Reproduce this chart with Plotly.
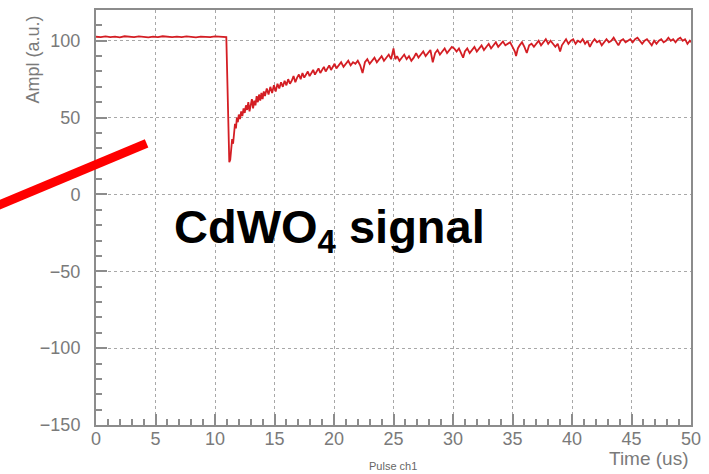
import plotly.graph_objects as go

# ---- data ----
time_us = [0.0, 0.4, 0.8, 1.2, 1.6, 2.0, 2.4, 2.8, 3.2, 3.6, 4.0, 4.4, 4.8, 5.2, 5.6, 6.0, 6.4, 6.8, 7.2, 7.6,
           8.0, 8.4, 8.8, 9.2, 9.6, 10.0, 10.4, 10.8, 10.95,
           11.05, 11.12, 11.2, 11.28, 11.36, 11.44, 11.52, 11.6, 11.68, 11.76, 11.84, 11.92, 12.0, 12.1, 12.2,
           12.3, 12.4, 12.5, 12.6, 12.7, 12.8, 12.9, 13.0, 13.1, 13.2, 13.3, 13.4, 13.5, 13.6, 13.7, 13.8, 13.9,
           14.0, 14.1, 14.2, 14.35, 14.5, 14.65, 14.8, 14.95, 15.1, 15.25, 15.4, 15.55, 15.7, 15.85, 16.0, 16.15,
           16.3, 16.45, 16.6, 16.75, 16.9, 17.05, 17.2, 17.35, 17.5, 17.65, 17.8, 17.95, 18.1, 18.25, 18.4, 18.55,
           18.7, 18.85, 19.0, 19.15, 19.3, 19.45, 19.6, 19.75, 19.9, 20.05, 20.2, 20.4, 20.6, 20.8, 21.0, 21.2,
           21.4, 21.6, 21.8, 22.0, 22.2, 22.4, 22.6, 22.8, 23.0, 23.2, 23.4, 23.6, 23.8, 24.0, 24.2, 24.4, 24.6,
           24.8, 25.0, 25.15, 25.3, 25.5, 25.7, 25.9, 26.1, 26.3, 26.5, 26.7, 26.9, 27.1, 27.3, 27.5, 27.7, 27.9,
           28.1, 28.3, 28.5, 28.7, 28.9, 29.1, 29.3, 29.5, 29.7, 29.9, 30.1, 30.3, 30.5, 30.7, 30.85, 31.0, 31.2,
           31.4, 31.6, 31.8, 32.0, 32.2, 32.4, 32.6, 32.8, 33.0, 33.2, 33.4, 33.6, 33.8, 34.0, 34.2, 34.4, 34.6,
           34.8, 35.0, 35.2, 35.3, 35.45, 35.6, 35.8, 36.0, 36.2, 36.4, 36.6, 36.8, 37.0, 37.2, 37.4, 37.6, 37.8,
           38.0, 38.2, 38.4, 38.6, 38.8, 39.0, 39.15, 39.3, 39.5, 39.7, 39.9, 40.1, 40.3, 40.5, 40.7, 40.9, 41.1,
           41.3, 41.5, 41.7, 41.9, 42.1, 42.3, 42.5, 42.7, 42.9, 43.1, 43.3, 43.5, 43.7, 43.9, 44.1, 44.3, 44.5,
           44.7, 44.9, 45.1, 45.3, 45.5, 45.7, 45.9, 46.1, 46.3, 46.5, 46.7, 46.9, 47.1, 47.3, 47.5, 47.7, 47.9,
           48.1, 48.3, 48.5, 48.7, 48.9, 49.1, 49.3, 49.5, 49.7, 49.9, 50.0]

ampl_au = [102.6, 102.3, 102.8, 102.4, 102.7, 102.2, 102.9, 102.5, 102.3, 102.8, 102.6, 102.2, 102.7, 102.4,
           102.9, 102.5, 102.3, 102.7, 102.4, 102.8, 102.5, 102.2, 102.7, 102.6, 102.3, 102.8, 102.5, 102.6, 102.4,
           70, 35, 21, 22.5, 30, 36, 33, 40, 46, 43, 50, 47, 52, 49, 54,
           51, 56, 53, 58, 55, 60, 54, 59, 62, 56, 61, 58, 64, 60, 65, 61, 66,
           62, 67, 64, 69, 65, 70, 66, 71, 67, 72, 69, 73, 70, 74, 71, 75,
           72, 74, 77, 73, 76, 78, 75, 79, 76, 78, 80, 77, 79, 81, 78, 80,
           82, 79, 81, 83, 80, 82, 84, 81, 83, 85, 82, 84, 86, 83, 85, 87,
           84, 86, 85, 87, 84, 79, 86, 88, 85, 87, 89, 86, 88, 90, 87, 89, 91,
           88, 95, 88, 90, 87, 89, 91, 88, 90, 87, 89, 92, 89, 91, 93, 90, 92,
           94, 86, 92, 94, 91, 93, 95, 92, 94, 96, 95, 93, 95, 92, 89, 93, 95,
           92, 94, 96, 93, 95, 97, 94, 96, 98, 95, 97, 99, 96, 98, 99.5, 97, 98,
           99, 96, 93, 90, 95, 97, 99, 96, 92, 97, 98, 96, 98, 100, 97, 99, 101,
           98, 100, 98, 96, 98, 93, 97, 99, 101, 98, 100, 101, 98, 100, 99, 101, 98,
           100, 96, 99, 101, 99, 100, 97, 99, 101, 99, 100, 102, 99, 97, 100, 101, 99,
           100, 101, 99, 101, 102, 100, 98, 100, 101, 99, 97, 100, 98, 100, 101, 99, 100,
           102, 100, 101, 99, 101, 102, 100, 101, 98, 100, 99]

x_ticks = [0, 5, 10, 15, 20, 25, 30, 35, 40, 45, 50]
y_ticks = [-150, -100, -50, 0, 50, 100]
y_tick_text = ["\u2212150", "\u2212100", "\u221250", "0", "50", "100"]
x_title = "Time (us)"
y_title = "Ampl (a.u.)"
hist_title = "Pulse ch1"
signal_label = "CdWO<sub>4</sub> signal"

GRAY = "#7a7a7a"
FRAME = "#8c8c8c"
FONT = "Liberation Sans, Arial, Helvetica, sans-serif"

fig = go.Figure()
fig.add_trace(go.Scatter(x=time_us, y=ampl_au, mode="lines",
                         line=dict(color="#d41e24", width=1.8), showlegend=False))

axis_common = dict(
    showline=True, mirror=True, linecolor=FRAME, linewidth=2,
    ticks="inside", tickcolor=FRAME, tickwidth=1.5,
    showgrid=True, gridcolor="#a8a8a8", griddash="dot", gridwidth=1,
    zeroline=False,
    tickfont=dict(family=FONT, size=18, color=GRAY),
)

fig.update_xaxes(range=[0, 50], tickvals=x_ticks, ticklen=11,
                 minor=dict(dtick=1, ticks="inside", ticklen=6, tickcolor=FRAME, showgrid=False),
                 ticklabelstandoff=-4, **axis_common)
fig.update_yaxes(range=[-150, 120], tickvals=y_ticks, ticktext=y_tick_text, ticklen=11,
                 minor=dict(tick0=0, dtick=10, ticks="inside", ticklen=6, tickcolor=FRAME, showgrid=False),
                 ticklabelstandoff=10, **axis_common)

fig.add_annotation(text=y_title, textangle=-90, xref="paper", yref="paper",
                   x=-0.1057, y=0.881, xanchor="center", yanchor="middle", showarrow=False,
                   font=dict(family=FONT, size=18, color=GRAY))
fig.add_annotation(text=x_title, xref="paper", yref="paper",
                   x=1.0, y=-0.081, xanchor="right", yanchor="middle", showarrow=False,
                   font=dict(family=FONT, size=19, color=GRAY))
fig.add_annotation(text=hist_title, xref="paper", yref="paper",
                   x=0.499, y=-0.099, xanchor="center", yanchor="middle", showarrow=False,
                   font=dict(family=FONT, size=11, color="#666666"))
fig.add_annotation(text="<b>" + signal_label + "</b>", xref="paper", yref="paper",
                   x=0.3926, y=0.469, xanchor="center", yanchor="middle", showarrow=False,
                   font=dict(family=FONT, size=47, color="#000000"))

fig.add_shape(type="line", xref="paper", yref="paper",
              x0=-0.1695, y0=0.526, x1=0.085, y1=0.6786,
              line=dict(color="#ff0000", width=9), layer="above")

fig.update_layout(width=709, height=474, margin=dict(l=96, r=17, t=8, b=49),
                  paper_bgcolor="white", plot_bgcolor="white")

fig.write_html("out.html")
